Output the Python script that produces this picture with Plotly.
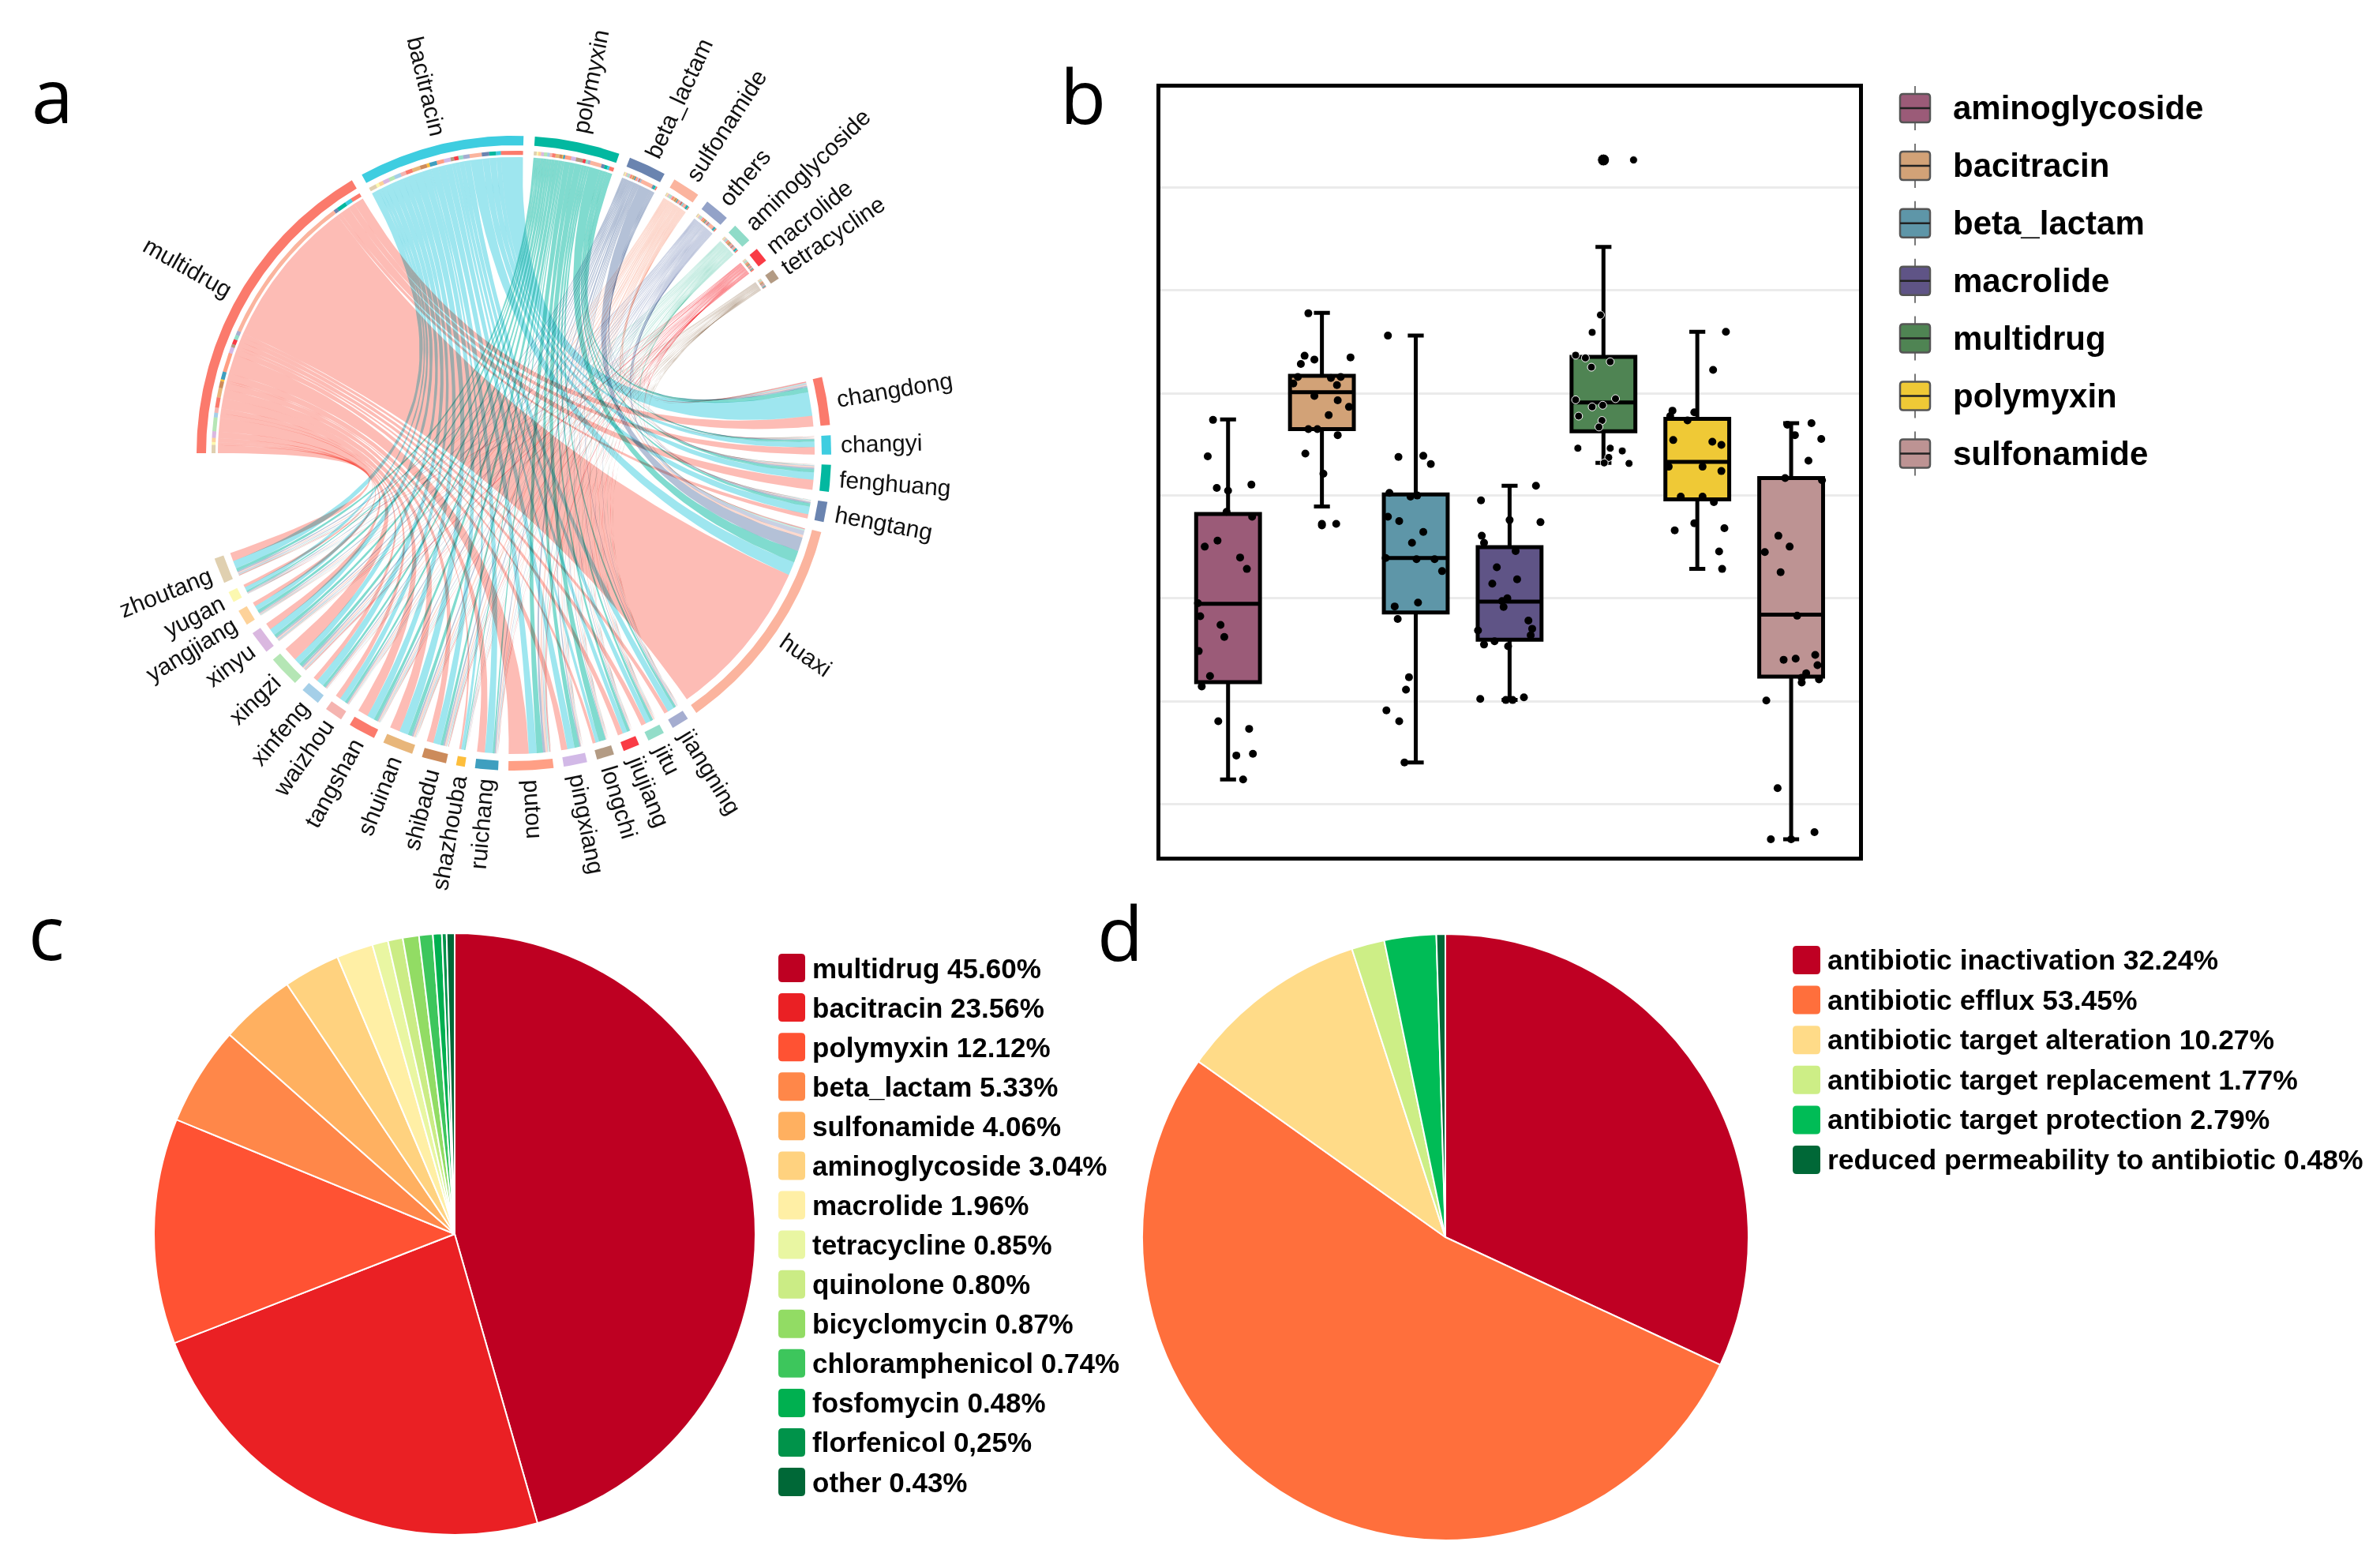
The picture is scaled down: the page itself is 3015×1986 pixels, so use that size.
import numpy as np
import plotly.graph_objects as go

# ---------- panel a: chord diagram data ----------
class_names = ["multidrug", "bacitracin", "polymyxin", "beta_lactam", "sulfonamide", "others", "aminoglycoside", "macrolide", "tetracycline"]
class_sizes = [59.3, 30.4, 15.6, 6.9, 5.1, 4.6, 3.7, 2.7, 1.9]
class_colors = ["#FB7A6C", "#3ECDE0", "#02B8A0", "#6A84B0", "#FBB49E", "#93A2C8", "#90DBC8", "#F93B45", "#B39B84"]
site_names = ["changdong", "changyi", "fenghuang", "hengtang", "huaxi", "jiangning", "jitu", "jiujiang", "longchi", "pingxiang", "putou", "ruichang", "shazhouba", "shibadu", "shuinan", "tangshan", "waizhou", "xinfeng", "xingzi", "xinyu", "yangjiang", "yugan", "zhoutang"]
site_sizes = [8.8, 3.5, 4.9, 3.7, 40.5, 3.2, 3.1, 3.0, 3.2, 4.3, 8.2, 4.2, 1.6, 4.5, 5.6, 5.0, 3.3, 3.6, 5.8, 4.2, 2.9, 2.0, 4.7]
site_colors = ["#FB7A6C", "#3ECDE0", "#02B8A0", "#6A84B0", "#FBB49E", "#A5ADD0", "#93DDC9", "#F93B45", "#B39B84", "#D2B9E7", "#FF9F85", "#3F9FBF", "#FDBE3C", "#CC8B5B", "#E8B67A", "#FB7A6C", "#F5B4B0", "#A5CFE8", "#B5E6B5", "#DAB8E0", "#FDD29A", "#FCF8B0", "#E0D0B0"]
# abundance of each class (order of class_names) in each site
changdong = [2.0, 4.5, .9, .3, .2, .2, .2, .2, .1]
changyi = [1.3, 1.0, .4, .15, .1, .1, .1, .05, .05]
fenghuang = [1.9, 1.4, .6, .3, .25, .15, .15, .05, .05]
hengtang = [.8, 1.5, .6, .3, .15, .15, .1, .05, .05]
huaxi = [30.0, 2.5, 2.2, 2.6, .5, .8, .3, .15, .1]
jiangning = [.8, 1.3, .45, .2, .15, .15, .1, .05, .05]
jitu = [.95, 1.0, .5, .15, .25, .1, .1, .05, .03]
jiujiang = [1.0, .9, .55, .15, .15, .1, .1, .05, .03]
longchi = [.6, .7, 1.35, .15, .2, .1, .1, .05, .03]
pingxiang = [1.2, 1.4, .95, .25, .2, .1, .1, .05, .03]
putou = [3.8, 1.5, 1.2, .45, .4, .2, .25, .2, .1]
ruichang = [1.5, 1.5, .35, .25, .2, .15, .1, .1, .05]
shazhouba = [.4, .6, .2, .1, .1, .08, .05, .05, .02]
shibadu = [1.3, 1.4, .55, .3, .3, .2, .2, .15, .1]
shuinan = [1.9, 1.7, .75, .3, .35, .15, .15, .1, .1]
tangshan = [2.0, 1.4, .65, .25, .25, .15, .15, .1, .05]
waizhou = [1.0, 1.1, .45, .2, .2, .15, .1, .05, .05]
xinfeng = [.9, 1.4, .5, .2, .2, .15, .1, .05, .05]
xingzi = [2.7, 1.2, .65, .3, .3, .2, .15, .2, .1]
xinyu = [1.3, 1.3, .55, .25, .25, .2, .15, .1, .05]
yangjiang = [.8, .9, .55, .2, .15, .1, .1, .05, .05]
yugan = [.55, .7, .3, .15, .1, .1, .05, .03, .02]
zhoutang = [1.6, 1.5, .55, .25, .2, .2, .15, .1, .1]
flows = np.array([changdong, changyi, fenghuang, hengtang, huaxi, jiangning, jitu, jiujiang, longchi, pingxiang, putou, ruichang, shazhouba, shibadu, shuinan, tangshan, waizhou, xinfeng, xingzi, xinyu, yangjiang, yugan, zhoutang])

# ---------- panel b: box plot data ----------
box_names = ["aminoglycoside", "bacitracin", "beta_lactam", "macrolide", "multidrug", "polymyxin", "sulfonamide"]
box_colors = ["#9B5B78", "#D2A277", "#5E96A8", "#5F5486", "#4F8453", "#EFC936", "#BD9393"]
box_upper = [8.04, 10.00, 9.58, 6.82, 11.21, 9.65, 7.97]
box_q3 = [6.30, 8.84, 6.66, 5.69, 9.19, 8.05, 6.96]
box_median = [4.65, 8.54, 5.49, 4.69, 8.35, 7.26, 4.45]
box_q1 = [3.21, 7.86, 4.49, 3.99, 7.82, 6.57, 3.31]
box_lower = [1.42, 6.44, 1.73, 2.88, 7.24, 5.29, 0.32]
grid_values = [0.96, 2.85, 4.75, 6.64, 8.52, 10.41, 12.30]
amino_y = [8.03, 7.36, 6.78, 6.73, 6.84, 6.34, 6.25, 5.81, 5.70, 5.50, 5.29, 4.66, 4.42, 4.26, 4.04, 3.78, 3.32, 3.13, 2.49, 2.35, 1.89, 1.86, 1.42]
amino_j = [-20, -27, -15, 0, 31, -2, 32, -14, -31, 16, 25, -40, -37, -10, -5, -39, -24, -35, -13, 28, 33, 11, 20]
baci_y = [9.99, 9.21, 9.06, 9.14, 9.18, 8.70, 8.82, 8.80, 8.82, 8.67, 8.47, 8.39, 8.27, 8.12, 7.86, 7.86, 7.75, 7.41, 7.04, 6.12, 6.12, 6.09]
baci_j = [-18, -23, -28, -10, 38, -38, -32, 12, 25, 20, -10, 21, 36, 9, -18, -6, 21, -22, 2, 0, 19, 0]
beta_y = [9.58, 7.35, 7.37, 7.22, 6.69, 6.62, 6.64, 6.25, 6.17, 5.97, 5.77, 5.49, 5.47, 5.47, 5.25, 4.67, 4.60, 4.37, 3.30, 3.07, 2.69, 2.49, 1.73]
beta_j = [-37, -23, 10, 20, -35, -7, 2, -37, -22, 10, -5, -40, 1, 25, 35, 3, -28, -24, -9, -13, -39, -22, -15]
macro_y = [6.82, 6.55, 6.19, 6.15, 5.90, 5.77, 5.62, 5.32, 5.10, 5.02, 4.75, 4.70, 4.59, 4.34, 4.16, 4.19, 4.07, 3.90, 3.96, 3.87, 2.90, 2.88, 2.88, 2.93]
macro_j = [35, -38, 0, 41, -37, -34, 8, -17, 10, -23, -3, -10, -8, 25, -42, 30, 28, -34, -20, -2, -39, -5, 4, 19]
multi_y = [12.81, 12.81, 9.96, 9.64, 9.22, 9.17, 9.10, 9.00, 8.42, 8.40, 8.27, 8.30, 8.10, 8.02, 7.90, 7.51, 7.51, 7.46, 7.34, 7.24, 7.23]
multi_j = [0, 40, -4, -15, -37, -24, 9, -16, 16, -37, -15, -1, -33, -2, -6, -34, 9, 25, 7, 1, 34]
multi_size = [15, 10, 10, 10, 10, 10, 10, 10, 10, 10, 10, 10, 10, 10, 10, 10, 10, 10, 10, 10, 10]
poly_y = [9.65, 8.95, 8.20, 8.17, 8.10, 8.02, 7.66, 7.63, 7.57, 7.17, 7.17, 7.09, 6.62, 6.62, 6.52, 6.13, 6.00, 6.04, 5.61, 5.29]
poly_j = [38, 21, -33, -4, -36, -13, -32, 20, 32, -38, 7, 32, -22, 7, 22, -4, -30, 36, 29, 33]
sulfa_y = [7.97, 7.94, 7.75, 7.68, 7.28, 6.96, 6.92, 5.90, 5.70, 5.60, 5.23, 4.43, 3.71, 3.62, 3.64, 3.52, 3.37, 3.29, 3.20, 3.26, 2.87, 1.26, 0.45, 0.32, 0.32]
sulfa_j = [27, -5, 5, 40, 23, -8, 41, -17, -2, -35, -14, 8, 32, -10, 6, 35, 20, 14, 14, 37, -33, -18, 31, -27, 0]
dots_y = [amino_y, baci_y, beta_y, macro_y, multi_y, poly_y, sulfa_y]
dots_j = [amino_j, baci_j, beta_j, macro_j, multi_j, poly_j, sulfa_j]

# ---------- panels c, d: pie data ----------
c_names = ["multidrug", "bacitracin", "polymyxin", "beta_lactam", "sulfonamide", "aminoglycoside", "macrolide", "tetracycline", "quinolone", "bicyclomycin", "chloramphenicol", "fosfomycin", "florfenicol", "other"]
c_values = [45.60, 23.56, 12.12, 5.33, 4.06, 3.04, 1.96, 0.85, 0.80, 0.87, 0.74, 0.48, 0.25, 0.43]
c_value_text = ["45.60%", "23.56%", "12.12%", "5.33%", "4.06%", "3.04%", "1.96%", "0.85%", "0.80%", "0.87%", "0.74%", "0.48%", "0,25%", "0.43%"]
c_colors = ["#BE0022", "#EA2024", "#FF5233", "#FF8749", "#FFB060", "#FFD27F", "#FFEFA5", "#E9F6A2", "#CBEC85", "#92DC64", "#3DC65C", "#00B050", "#00934A", "#006837"]
d_names = ["antibiotic inactivation", "antibiotic efflux", "antibiotic target alteration", "antibiotic target replacement", "antibiotic target protection", "reduced permeability to antibiotic"]
d_values = [32.24, 53.45, 10.27, 1.77, 2.79, 0.48]
d_value_text = ["32.24%", "53.45%", "10.27%", "1.77%", "2.79%", "0.48%"]
d_colors = ["#BF0023", "#FF6F3C", "#FFDB88", "#CDEE86", "#00BC56", "#006837"]

W, H = 3015, 1986
def fx(p): return p / W
def fy(p): return 1 - p / H
def rgba(c, a):
    return "rgba(%d,%d,%d,%s)" % (int(c[1:3], 16), int(c[3:5], 16), int(c[5:7], 16), a)

fig = go.Figure()
shapes, notes = [], []

# ---------- chord layout ----------
CX, CY, R = 651, 574, 402.0
ang = 270.0
class_span, site_span = [], []
for s in class_sizes:
    class_span.append((ang, ang + s)); ang += s + 2.05
ang = ang - 2.05 + 19.5
for s in site_sizes:
    site_span.append((ang, ang + s)); ang += s + 1.85

def pol(theta, r):
    t = np.radians(theta)
    return r * np.sin(t), r * np.cos(t)

def arc(a, b, r1, r2=None):
    n = max(3, int(abs(b - a) * 2) + 2)
    th = np.linspace(a, b, n)
    x, y = pol(th, r1)
    if r2 is None:
        return x, y
    x2, y2 = pol(th[::-1], r2)
    return np.r_[x, x2, x[0]], np.r_[y, y2, y[0]]

def bez(p0, p1, n=40):
    t = np.linspace(0, 1, n)[:, None]
    p0, p1 = np.array(p0), np.array(p1)
    q = (1 - t) ** 2 * p0 + t ** 2 * p1
    return q[:, 0], q[:, 1]

nc, ns = len(class_names), len(site_names)
class_ends = {}
for c in range(nc):
    a, b = class_span[c]
    tot = flows[:, c].sum()
    pos = a
    for s in range(ns - 1, -1, -1):
        w = flows[s, c] / tot * (b - a)
        class_ends[(c, s)] = (pos, pos + w)
        pos += w
site_ends = {}
for s in range(ns):
    a, b = site_span[s]
    tot = flows[s].sum()
    pos = a
    for c in range(nc - 1, -1, -1):
        w = flows[s, c] / tot * (b - a)
        site_ends[(c, s)] = (pos, pos + w)
        pos += w

R_class, R_site = 375 / R, 381 / R
def add_poly(x, y, fill):
    fig.add_trace(go.Scatter(x=x, y=y, mode="lines", fill="toself", fillcolor=fill,
                             line=dict(color=fill, width=0), hoverinfo="skip",
                             showlegend=False, xaxis="x", yaxis="y"))

for c in range(nc):
    for s in range(ns):
        a1, a2 = class_ends[(c, s)]
        b1, b2 = site_ends[(c, s)]
        ax, ay = arc(a1, a2, R_class)
        bx, by = arc(b1, b2, R_site)
        l1x, l1y = bez((ax[-1], ay[-1]), (bx[0], by[0]))
        l2x, l2y = bez((bx[-1], by[-1]), (ax[0], ay[0]))
        add_poly(np.r_[ax, l1x, bx, l2x], np.r_[ay, l1y, by, l2y], rgba(class_colors[c], 0.5))
# inner stripes of class sectors
for c in range(nc):
    for s in range(ns):
        a1, a2 = class_ends[(c, s)]
        x, y = arc(a1, a2, 383 / R, 378 / R)
        add_poly(x, y, site_colors[s])
# outer rings
for spans, cols in ((class_span, class_colors), (site_span, site_colors)):
    for (a, b), col in zip(spans, cols):
        x, y = arc(a, b, 1.0, 390 / R)
        add_poly(x, y, col)

# labels
CW = {"a": .556, "b": .556, "c": .5, "d": .556, "e": .556, "f": .278, "g": .556, "h": .556, "i": .222, "j": .222, "k": .5, "l": .222, "m": .833, "n": .556, "o": .556, "p": .556, "q": .556, "r": .333, "s": .5, "t": .278, "u": .556, "v": .5, "w": .722, "x": .5, "y": .5, "z": .5, "_": .556}
LABEL_PX = 30
def add_label(name, a, b):
    th = (a + b) / 2 % 360
    width = sum(CW[ch] for ch in name) * LABEL_PX
    x, y = pol(th, (414 + width / 2) / R)
    rot = th - 90 if th < 180 else th - 270
    notes.append(dict(x=x, y=y, xref="x", yref="y", text=name, textangle=rot, showarrow=False,
                      xanchor="center", yanchor="middle", font=dict(family="Liberation Sans", size=LABEL_PX, color="#111111")))
for n, sp in zip(class_names, class_span):
    add_label(n, *sp)
for n, sp in zip(site_names, site_span):
    add_label(n, *sp)

# ---------- box plot ----------
for i, name in enumerate(box_names):
    fig.add_trace(go.Box(x=[i], q1=[box_q1[i]], median=[box_median[i]], q3=[box_q3[i]],
                         lowerfence=[box_lower[i]], upperfence=[box_upper[i]], name=name,
                         width=0.68, whiskerwidth=0.25, fillcolor=box_colors[i],
                         line=dict(color="#000000", width=5), boxpoints=False,
                         showlegend=False, xaxis="x2", yaxis="y2"))
for i, name in enumerate(box_names):
    sizes = multi_size if name == "multidrug" else 10
    fig.add_trace(go.Scatter(x=[i + j / 124.7 for j in dots_j[i]], y=dots_y[i], mode="markers",
                             marker=dict(color="#000000", size=sizes, opacity=1), showlegend=False,
                             hoverinfo="y", xaxis="x2", yaxis="y2"))

# ---------- pies ----------
def pie_domain(cx, cy, r):
    return dict(x=[fx(cx - r), fx(cx + r)], y=[fy(cy + r), fy(cy - r)])
fig.add_trace(go.Pie(labels=c_names, values=c_values, sort=False, direction="clockwise", rotation=0,
                     marker=dict(colors=c_colors, line=dict(color="#FFFFFF", width=2)),
                     textinfo="none", showlegend=False, domain=pie_domain(576, 1563, 381)))
fig.add_trace(go.Pie(labels=d_names, values=d_values, sort=False, direction="clockwise", rotation=0,
                     marker=dict(colors=d_colors, line=dict(color="#FFFFFF", width=2)),
                     textinfo="none", showlegend=False, domain=pie_domain(1831, 1567, 384)))

# ---------- manual keys ----------
def rounded(x0, y0, x1, y1, r, col, line=None):
    p = (f"M {fx(x0 + r)} {fy(y0)} L {fx(x1 - r)} {fy(y0)} Q {fx(x1)} {fy(y0)} {fx(x1)} {fy(y0 + r)} "
         f"L {fx(x1)} {fy(y1 - r)} Q {fx(x1)} {fy(y1)} {fx(x1 - r)} {fy(y1)} L {fx(x0 + r)} {fy(y1)} "
         f"Q {fx(x0)} {fy(y1)} {fx(x0)} {fy(y1 - r)} L {fx(x0)} {fy(y0 + r)} Q {fx(x0)} {fy(y0)} {fx(x0 + r)} {fy(y0)} Z")
    return dict(type="path", path=p, xref="paper", yref="paper", fillcolor=col,
                line=dict(color=line, width=2.5) if line else dict(width=0))

def text_note(px, py, text, size, bold=True, family="Liberation Sans"):
    notes.append(dict(x=fx(px), y=fy(py), xref="paper", yref="paper", text=f"<b>{text}</b>" if bold else text,
                      showarrow=False, xanchor="left", yanchor="middle",
                      font=dict(family=family, size=size, color="#000000")))

for i, name in enumerate(c_names):
    yc = 1226 + i * 50.08
    shapes.append(rounded(986, yc - 18, 1020, yc + 18, 5, c_colors[i]))
    text_note(1027, yc, f"{name} {c_value_text[i]}", 35)
for i, name in enumerate(d_names):
    yc = 1216 + i * 50.6
    shapes.append(rounded(2271, yc - 18, 2306, yc + 18, 5, d_colors[i]))
    text_note(2313, yc, f"{name} {d_value_text[i]}", 35.5)
for i, name in enumerate(box_names):
    yc = 137 + i * 72.9
    shapes.append(dict(type="line", xref="paper", yref="paper", x0=fx(2426), x1=fx(2426), y0=fy(yc - 28), y1=fy(yc + 28), line=dict(color="#777777", width=2)))
    shapes.append(rounded(2407, yc - 18, 2445, yc + 18, 4, box_colors[i], "#555555"))
    shapes.append(dict(type="line", xref="paper", yref="paper", x0=fx(2407), x1=fx(2445), y0=fy(yc), y1=fy(yc), line=dict(color="#222222", width=2.5)))
    text_note(2472, yc, name, 42)

for t, px, py in (("a", 38, 119), ("b", 1341, 120), ("c", 34, 1179), ("d", 1388, 1180)):
    text_note(px, py, t, 95, bold=False, family="Open Sans")

hidden = dict(visible=False, fixedrange=True, showgrid=False, zeroline=False)
fig.update_layout(
    width=W, height=H, margin=dict(l=0, r=0, t=0, b=0), paper_bgcolor="#FFFFFF", plot_bgcolor="rgba(0,0,0,0)",
    showlegend=False, shapes=shapes, annotations=notes,
    xaxis=dict(domain=[0, fx(1340)], range=[(0 - CX) / R, (1340 - CX) / R], **hidden),
    yaxis=dict(domain=[fy(1140), 1], range=[(CY - 1140) / R, CY / R], **hidden),
    xaxis2=dict(domain=[fx(1470), fx(2355)], range=[-0.721, 6.723], showgrid=False, zeroline=False, showticklabels=False, ticks="",
                showline=True, mirror=True, linecolor="#000000", linewidth=5, fixedrange=True, anchor="y2"),
    yaxis2=dict(domain=[fy(1085), fy(111)], range=[0, 14.14], tickvals=grid_values, showticklabels=False, ticks="",
                showgrid=True, gridcolor="#EBEBEB", gridwidth=3, zeroline=False,
                showline=True, mirror=True, linecolor="#000000", linewidth=5, fixedrange=True, anchor="x2"),
)
css = "body{margin:0;overflow:hidden}.scatterlayer .js-fill{mix-blend-mode:multiply}"
fig.write_html("out.html", config={"displayModeBar": False},
               post_script="var s=document.createElement('style');s.textContent='" + css + "';document.head.appendChild(s);")
